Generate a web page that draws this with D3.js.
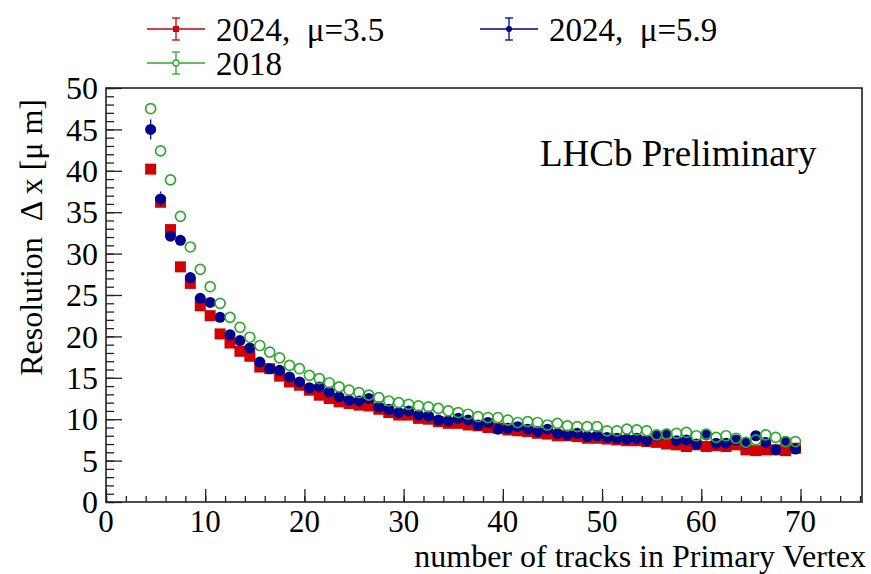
<!DOCTYPE html>
<html>
<head>
<meta charset="utf-8">
<script src="https://cdn.jsdelivr.net/npm/d3@7"></script>
<style>
  body { margin: 0; background: #fff; }
  text { font-family: "Liberation Serif", "DejaVu Serif", serif; fill: #000; white-space: pre; }
</style>
</head>
<body>
<div id="chart"></div>
<script>
  // bin centres (number of tracks)
  var tracks = [4.5, 5.5, 6.5, 7.5, 8.5, 9.5, 10.5, 11.5, 12.5, 13.5, 14.5, 15.5, 16.5, 17.5, 18.5, 19.5,
    20.5, 21.5, 22.5, 23.5, 24.5, 25.5, 26.5, 27.5, 28.5, 29.5, 30.5, 31.5, 32.5, 33.5, 34.5, 35.5,
    36.5, 37.5, 38.5, 39.5, 40.5, 41.5, 42.5, 43.5, 44.5, 45.5, 46.5, 47.5, 48.5, 49.5, 50.5, 51.5,
    52.5, 53.5, 54.5, 55.5, 56.5, 57.5, 58.5, 59.5, 60.5, 61.5, 62.5, 63.5, 64.5, 65.5, 66.5, 67.5,
    68.5, 69.5];

  // resolution values [um]
  var res2024mu35 = [40.2, 36.2, 32.9, 28.4, 26.4, 23.7, 22.5, 20.3, 19.2, 18.2, 17.6, 16.3, 16.1, 15.2, 14.5, 14.1,
    13.5, 12.9, 12.5, 12.1, 11.9, 11.7, 11.6, 11.2, 10.8, 10.5, 10.5, 10.1, 10.0, 9.7, 9.5, 9.5,
    9.3, 9.2, 9.0, 8.9, 8.7, 8.6, 8.5, 8.3, 8.2, 8.0, 8.0, 7.9, 7.7, 7.7, 7.6, 7.5,
    7.4, 7.4, 7.3, 7.2, 7.0, 6.9, 6.7, 6.9, 6.7, 6.8, 6.7, 6.9, 6.3, 6.2, 6.3, 6.3,
    6.2, 6.5];
  var res2024mu59 = [45.0, 36.6, 32.1, 31.6, 27.1, 24.6, 24.1, 22.3, 20.2, 19.5, 18.6, 16.9, 16.1, 15.9, 15.1, 14.5,
    13.8, 13.9, 13.3, 12.7, 12.3, 12.2, 12.5, 11.5, 11.2, 10.8, 11.0, 10.5, 10.4, 9.9, 9.8, 10.1,
    9.9, 9.3, 9.6, 8.8, 8.9, 9.1, 8.8, 8.5, 8.8, 8.3, 8.1, 8.3, 7.9, 8.0, 7.8, 7.7,
    7.6, 7.7, 7.4, 8.0, 8.2, 7.4, 7.5, 7.0, 8.1, 7.1, 7.1, 7.5, 7.1, 8.0, 7.2, 6.3,
    7.3, 6.4];
  var res2018 = [47.5, 42.4, 38.9, 34.5, 30.8, 28.1, 26.0, 24.0, 22.3, 21.1, 19.9, 18.9, 18.1, 17.4, 16.5, 16.1,
    15.3, 14.9, 14.4, 13.9, 13.5, 13.2, 12.9, 12.6, 12.2, 12.0, 11.8, 11.6, 11.5, 11.3, 11.0, 10.8,
    10.6, 10.3, 10.2, 10.2, 9.9, 9.6, 9.7, 9.6, 9.3, 9.5, 9.2, 9.1, 9.1, 9.1, 8.6, 8.6,
    8.8, 8.7, 8.6, 8.1, 8.2, 8.3, 8.4, 8.0, 8.2, 7.8, 8.0, 7.7, 7.2, 7.5, 8.1, 7.8,
    7.3, 7.3];

  // errors (only the first bins stick out beyond the markers)
  var err2024mu35 = [0.4, 0.4, 0.3, 0.3, 0.3, 0.2, 0.2, 0.2];
  var err2024mu59 = [1.2, 0.9, 0.5, 0.4, 0.4, 0.3, 0.3, 0.3];
  var err2018 = [0.3, 0.3, 0.2, 0.2, 0.2, 0.2, 0.2, 0.2];

  var yTickLabels = [0, 5, 10, 15, 20, 25, 30, 35, 40, 45, 50];
  var xTickLabels = [0, 10, 20, 30, 40, 50, 60, 70];

  var W = 871, H = 574;
  var margin = {top: 88, right: 9, bottom: 72, left: 106},
      width = W - margin.left - margin.right,
      height = H - margin.top - margin.bottom;

  var svgRoot = d3.select("#chart").append("svg")
      .attr("width", W)
      .attr("height", H);

  var svg = svgRoot.append("g")
      .attr("transform", "translate(" + margin.left + "," + margin.top + ")");

  var x = d3.scaleLinear().domain([0, 76.2]).range([0, width]);
  var y = d3.scaleLinear().domain([0, 50]).range([height, 0]);

  // minor ticks
  svg.append("g")
      .attr("transform", "translate(0," + height + ")")
      .call(d3.axisTop(x).tickValues(d3.range(0, 77, 2)).tickSize(6).tickFormat(""))
      .call(function(g) { g.select(".domain").remove(); });
  svg.append("g")
      .call(d3.axisRight(y).tickValues(d3.range(0, 51, 1)).tickSize(8).tickFormat(""))
      .call(function(g) { g.select(".domain").remove(); });

  // major ticks + labels
  var xAxis = svg.append("g")
      .attr("transform", "translate(0," + height + ")")
      .call(d3.axisTop(x).tickValues(xTickLabels).tickSize(13).tickFormat(""));
  xAxis.select(".domain").remove();
  xAxis.selectAll(".tl").data(xTickLabels).enter().append("text")
      .attr("x", function(d) { return x(d); })
      .attr("y", 30)
      .attr("text-anchor", "middle")
      .style("font-size", "31px")
      .text(function(d) { return d; });

  var yAxis = svg.append("g")
      .call(d3.axisRight(y).tickValues(yTickLabels).tickSize(16).tickFormat(""));
  yAxis.select(".domain").remove();
  yAxis.selectAll(".tl").data(yTickLabels).enter().append("text")
      .attr("x", -8)
      .attr("y", function(d) { return y(d); })
      .attr("dy", "0.35em")
      .attr("text-anchor", "end")
      .style("font-size", "32px")
      .text(function(d) { return d; });

  svg.selectAll(".tick line").attr("stroke", "#222").attr("stroke-width", 1.3);

  // frame
  svg.append("rect")
      .attr("width", width).attr("height", height)
      .attr("fill", "none").attr("stroke", "#222").attr("stroke-width", 1.6);

  // series
  var series = [
    {name: "2024,  \u03bc=3.5", vals: res2024mu35, errs: err2024mu35, color: "#d20000", shape: "square", r: 5.5},
    {name: "2024,  \u03bc=5.9", vals: res2024mu59, errs: err2024mu59, color: "#00008f", shape: "dot", r: 5.5},
    {name: "2018", vals: res2018, errs: err2018, color: "#2fa82f", shape: "ring", r: 5}
  ];

  function drawMarker(g, s, cx, cy) {
    if (s.shape === "square") {
      g.append("rect").attr("x", cx - s.r).attr("y", cy - s.r).attr("width", 2 * s.r).attr("height", 2 * s.r)
        .attr("fill", s.color);
    } else if (s.shape === "dot") {
      g.append("circle").attr("cx", cx).attr("cy", cy).attr("r", s.r).attr("fill", s.color);
    } else {
      g.append("circle").attr("cx", cx).attr("cy", cy).attr("r", s.r)
        .attr("fill", "none").attr("stroke", s.color).attr("stroke-width", 1.7);
    }
  }

  // drawn in order red, blue, green (open circles on top)
  series.forEach(function(s) {
    var g = svg.append("g");
    s.vals.forEach(function(v, i) {
      var e = s.errs[i] || 0;
      var cx = x(tracks[i]), cy = y(v);
      var top = y(v + e), bot = y(v - e);
      // only the part of the error bar outside the marker
      if (cy - top > s.r) {
        g.append("line").attr("x1", cx).attr("x2", cx).attr("y1", top).attr("y2", cy - s.r)
          .attr("stroke", s.color).attr("stroke-width", 1.3);
        g.append("line").attr("x1", cx).attr("x2", cx).attr("y1", cy + s.r).attr("y2", bot)
          .attr("stroke", s.color).attr("stroke-width", 1.3);
      }
      drawMarker(g, s, cx, cy);
    });
  });

  // LHCb label
  svg.append("text")
      .attr("x", 434).attr("y", 78)
      .style("font-size", "37px")
      .text("LHCb Preliminary");

  // axis titles
  svgRoot.append("text")
      .attr("x", W - 5).attr("y", H - 7)
      .attr("text-anchor", "end")
      .style("font-size", "32px")
      .text("number of tracks in Primary Vertex");

  svgRoot.append("text")
      .attr("transform", "translate(42,99) rotate(-90)")
      .attr("text-anchor", "end")
      .style("font-size", "32px")
      .text("Resolution  \u0394 x [\u03bc m]");

  // legend
  var legendPos = [{x: 147, y: 29}, {x: 480, y: 29}, {x: 147, y: 63}];
  series.forEach(function(s, i) {
    var p = legendPos[i];
    var g = svgRoot.append("g").attr("transform", "translate(" + p.x + "," + p.y + ")");
    g.append("line").attr("x1", 0).attr("x2", 58).attr("y1", 0).attr("y2", 0)
      .attr("stroke", s.color).attr("stroke-width", 1.3);
    g.append("line").attr("x1", 29).attr("x2", 29).attr("y1", -11).attr("y2", 11)
      .attr("stroke", s.color).attr("stroke-width", 1.3);
    g.append("line").attr("x1", 25).attr("x2", 33).attr("y1", -11).attr("y2", -11)
      .attr("stroke", s.color).attr("stroke-width", 1.3);
    g.append("line").attr("x1", 25).attr("x2", 33).attr("y1", 11).attr("y2", 11)
      .attr("stroke", s.color).attr("stroke-width", 1.3);
    if (s.shape === "square") {
      g.append("rect").attr("x", 26).attr("y", -3).attr("width", 6).attr("height", 6).attr("fill", s.color);
    } else if (s.shape === "dot") {
      g.append("circle").attr("cx", 29).attr("cy", 0).attr("r", 3).attr("fill", s.color);
    } else {
      g.append("circle").attr("cx", 29).attr("cy", 0).attr("r", 3)
        .attr("fill", "#fff").attr("stroke", s.color).attr("stroke-width", 1.3);
    }
    g.append("text").attr("x", 69).attr("y", 0).attr("dy", "0.35em")
      .style("font-size", "33px")
      .text(s.name);
  });
</script>
</body>
</html>
